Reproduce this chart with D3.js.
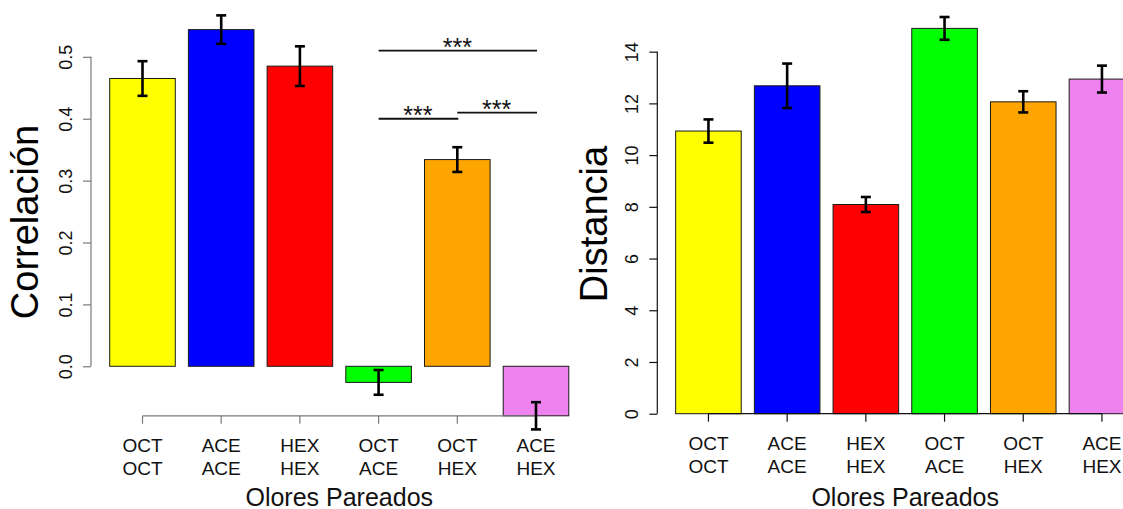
<!DOCTYPE html>
<html>
<head>
<meta charset="utf-8">
<script src="https://cdn.jsdelivr.net/npm/d3@7"></script>
<style>
  html, body { margin: 0; padding: 0; background: #fff; }
  svg { display: block; font-family: "Liberation Sans", Arial, Helvetica, sans-serif; }
</style>
</head>
<body>
<svg id="chart" width="1123" height="509"></svg>
<script>
// Odour pairs (two-line labels)
const pairTop    = ["OCT", "ACE", "HEX", "OCT", "OCT", "ACE"];
const pairBottom = ["OCT", "ACE", "HEX", "ACE", "HEX", "HEX"];
const barColors  = ["#ffff00", "#0000ff", "#ff0000", "#00ff00", "#ffa500", "#ee82ee"];

// Correlation per pair (mean ± s.e.)
const correlation    = [0.465, 0.544, 0.485, -0.026, 0.334, -0.080];
const correlationErr = [0.028, 0.023, 0.032, 0.020, 0.020, 0.022];
const correlationTicks = [0.0, 0.1, 0.2, 0.3, 0.4, 0.5];

// Distance per pair (mean ± s.e.)
const distance    = [10.93, 12.68, 8.09, 14.90, 12.06, 12.94];
const distanceErr = [0.45, 0.86, 0.29, 0.44, 0.41, 0.52];
const distanceTicks = [0, 2, 4, 6, 8, 10, 12, 14];

// Significance brackets on the correlation panel (bar index from, to, height)
const sigFrom   = [3, 3, 4];
const sigTo     = [5, 4, 5];
const sigLevel  = [0.51, 0.40, 0.41];
const sigLabel  = ["***", "***", "***"];

const svg = d3.select("#chart");
const idx = d3.range(pairTop.length);

function panel(opts) {
  const g = svg.append("g");
  const x = d3.scaleBand()
    .domain(idx)
    .range(opts.xRange)
    .paddingInner(0.2 / 1.2)
    .paddingOuter(0.1 / 1.2);
  const y = d3.scaleLinear().domain(opts.yDomain).range(opts.yRange);
  const cx = i => x(i) + x.bandwidth() / 2;

  // bars
  g.selectAll("rect.bar").data(idx).join("rect")
    .attr("class", "bar")
    .attr("x", i => x(i))
    .attr("width", x.bandwidth())
    .attr("y", i => y(Math.max(0, opts.values[i])))
    .attr("height", i => Math.abs(y(opts.values[i]) - y(0)))
    .attr("fill", i => barColors[i])
    .attr("stroke", "#1a1a1a")
    .attr("stroke-width", 1);

  // y axis
  const yAxis = d3.axisLeft(y)
    .tickValues(opts.ticks)
    .tickFormat(opts.tickFormat)
    .tickSizeInner(8)
    .tickSizeOuter(0)
    .tickPadding(0);
  const ya = g.append("g").attr("transform", `translate(${opts.axisX},0)`).call(yAxis);
  ya.select(".domain")
    .attr("d", `M0,${y(opts.ticks[0])}V${y(opts.ticks[opts.ticks.length - 1])}`)
    .attr("stroke", opts.axisColor).attr("stroke-width", 1.2);
  ya.selectAll(".tick line").attr("stroke", opts.axisColor).attr("stroke-width", 1.2);
  ya.selectAll(".tick text")
    .attr("x", null).attr("dy", null)
    .attr("transform", "translate(-19,0) rotate(-90)")
    .attr("text-anchor", "middle")
    .attr("fill", "#111")
    .style("font-size", "18px");

  // x axis (categories)
  const xAxisY = opts.xAxisY;
  g.append("path")
    .attr("d", `M${cx(0)},${xAxisY}H${cx(idx.length - 1)}`)
    .attr("stroke", opts.axisColor).attr("stroke-width", 1.2).attr("fill", "none");
  g.selectAll("line.xtick").data(idx).join("line")
    .attr("class", "xtick")
    .attr("x1", cx).attr("x2", cx)
    .attr("y1", xAxisY).attr("y2", xAxisY + 8)
    .attr("stroke", opts.axisColor).attr("stroke-width", 1.2);
  const lab = g.selectAll("text.xlab").data(idx).join("text")
    .attr("class", "xlab")
    .attr("text-anchor", "middle")
    .attr("fill", "#111")
    .style("font-size", "19px");
  lab.append("tspan").attr("x", cx).attr("y", xAxisY + 36).text(i => pairTop[i]);
  lab.append("tspan").attr("x", cx).attr("y", xAxisY + 59).text(i => pairBottom[i]);

  // error bars
  const eb = g.selectAll("g.err").data(idx).join("g").attr("class", "err")
    .attr("stroke", "#000").attr("stroke-width", 2.6);
  eb.append("line")
    .attr("x1", cx).attr("x2", cx)
    .attr("y1", i => y(opts.values[i] + opts.errors[i]))
    .attr("y2", i => y(opts.values[i] - opts.errors[i]));
  eb.append("line")
    .attr("x1", i => cx(i) - 5).attr("x2", i => cx(i) + 5)
    .attr("y1", i => y(opts.values[i] + opts.errors[i]))
    .attr("y2", i => y(opts.values[i] + opts.errors[i]));
  eb.append("line")
    .attr("x1", i => cx(i) - 5).attr("x2", i => cx(i) + 5)
    .attr("y1", i => y(opts.values[i] - opts.errors[i]))
    .attr("y2", i => y(opts.values[i] - opts.errors[i]));

  // axis titles
  g.append("text")
    .attr("transform", `translate(${opts.yTitleX},${opts.yTitleY}) rotate(-90)`)
    .attr("text-anchor", "middle")
    .attr("fill", "#000")
    .style("font-size", "38px")
    .text(opts.yTitle);
  g.append("text")
    .attr("x", (cx(0) + cx(idx.length - 1)) / 2)
    .attr("y", 505.5)
    .attr("text-anchor", "middle")
    .attr("fill", "#111")
    .style("font-size", "25px")
    .text("Olores Pareados");

  return { g, x, y, cx };
}

// Left: correlation
const left = panel({
  xRange: [103.15, 103.15 + 6 * 78.7],
  yDomain: [-0.08, 0.55],
  yRange: [415.8, 25.9],
  values: correlation,
  errors: correlationErr,
  ticks: correlationTicks,
  tickFormat: d3.format(".1f"),
  axisX: 91,
  axisColor: "#7a7a7a",
  xAxisY: 415.8,
  yTitle: "Correlación",
  yTitleX: 37.5,
  yTitleY: 222
});

// significance brackets
const sig = left.g.selectAll("g.sig").data(d3.range(sigFrom.length)).join("g").attr("class", "sig");
sig.append("line")
  .attr("x1", k => left.cx(sigFrom[k]))
  .attr("x2", k => left.cx(sigTo[k]) + 1)
  .attr("y1", k => left.y(sigLevel[k]))
  .attr("y2", k => left.y(sigLevel[k]))
  .attr("stroke", "#111").attr("stroke-width", 1.8);
sig.append("text")
  .attr("x", k => (left.cx(sigFrom[k]) + left.cx(sigTo[k])) / 2)
  .attr("y", k => left.y(sigLevel[k]) + 5)
  .attr("text-anchor", "middle")
  .attr("fill", "#111")
  .style("font-size", "25px")
  .text(k => sigLabel[k]);

// Right: distance
panel({
  xRange: [669.1, 669.1 + 6 * 78.7],
  yDomain: [0, 15],
  yRange: [413.7, 25.8],
  values: distance,
  errors: distanceErr,
  ticks: distanceTicks,
  tickFormat: d3.format("d"),
  axisX: 657.3,
  axisColor: "#111",
  xAxisY: 413.7,
  yTitle: "Distancia",
  yTitleX: 606.7,
  yTitleY: 224
});
</script>
</body>
</html>
